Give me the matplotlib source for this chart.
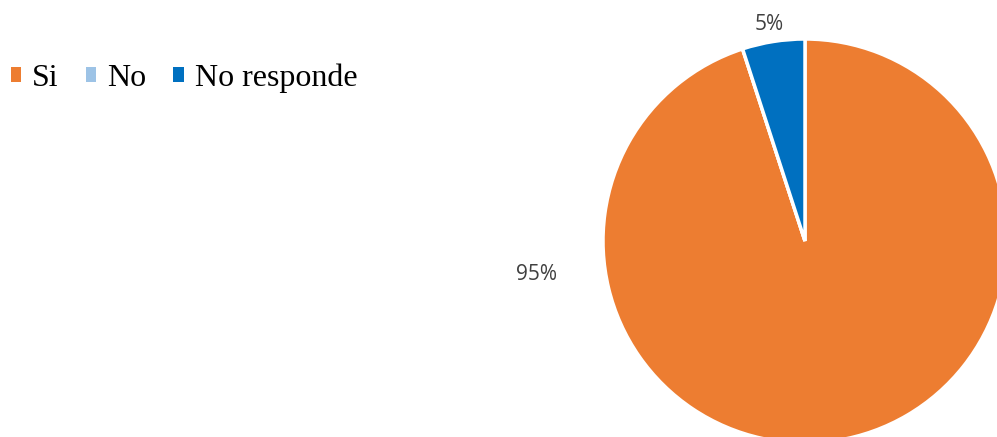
import matplotlib.pyplot as plt
from matplotlib.patches import Patch

# Data
categories = ['Si', 'No', 'No responde']
values = [95, 0, 5]
colors = ['#ED7D31', '#9DC3E6', '#0070C0']

fig = plt.figure(figsize=(9.97, 4.37), dpi=100)

# pie axes: centre ~(805, 241) px, radius ~202 px
W, H = 997, 437
cx, cy, r = 805, 241, 202
ax = fig.add_axes([(cx - r) / W, (H - cy - r) / H, 2 * r / W, 2 * r / H])
wedges, _ = ax.pie(values, colors=colors, startangle=90, counterclock=False,
                   radius=1, wedgeprops=dict(edgecolor='white', linewidth=2.5))
ax.set_xlim(-1, 1)
ax.set_ylim(-1, 1)
ax.set_aspect('equal')
ax.axis('off')

# data labels (Excel "best fit" placement)
label_pos = {0: (-1.327, -0.165), 2: (-0.175, 1.07)}
for i, (x, y) in label_pos.items():
    ax.text(x, y, f'{values[i]}%', ha='center', va='center', fontsize=15,
            color='#404040', family='Open Sans', clip_on=False)

handles = [Patch(facecolor=c, edgecolor='none') for c in colors]
fig.legend(handles, categories, loc='center left', bbox_to_anchor=(0.001, 1 - 78 / H),
           ncol=3, frameon=False, prop={'family': 'Liberation Serif', 'size': 23},
           handlelength=0.32, handleheight=0.32, handletextpad=0.35,
           columnspacing=0.85, borderaxespad=0, borderpad=0.3)

fig.savefig('out.png', dpi=100)
